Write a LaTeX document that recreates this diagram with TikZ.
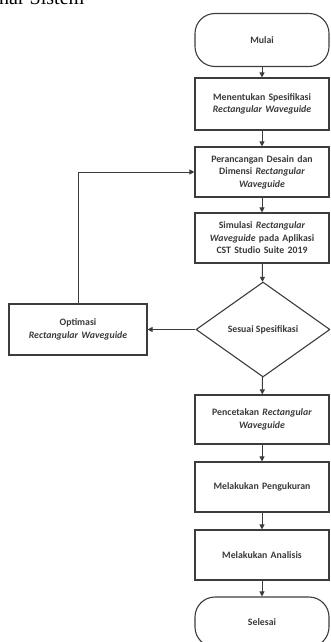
\documentclass[tikz,border=0pt]{standalone}
\usepackage{fontspec}
\setmainfont{Carlito}
\newfontfamily\headserif{Liberation Serif}
\usetikzlibrary{shapes.geometric,arrows.meta}
\definecolor{linec}{HTML}{3C3C3C}
\definecolor{textc}{HTML}{3A3A3A}
\begin{document}
\begin{tikzpicture}[x=1pt,y=-1pt,
  box/.style={draw=linec, line width=1.1pt, minimum width=134pt, minimum height=50pt,
    text width=130pt, align=center, inner sep=0pt, text=textc,
    font=\bfseries\fontsize{9.8}{12.5}\selectfont},
  term/.style={box, rounded corners=20pt},
  dec/.style={draw=linec, line width=1.1pt, diamond, minimum width=134pt, minimum height=95pt,
    inner sep=0pt, text=textc, align=center, font=\bfseries\fontsize{9.8}{12.5}\selectfont},
  conn/.style={draw=linec, line width=1pt, -{Triangle[length=5pt,width=5pt]}}
]
\useasboundingbox (0,0) rectangle (330,642);
\clip (0,0) rectangle (330,642);
\node[anchor=base west, font=\headserif\fontsize{20}{24}\selectfont, inner sep=0pt] (head) at (-1,5) {nar Sistem};
\node[term, minimum height=53pt] (mulai) at (262,40) {Mulai};
\node[box, minimum height=52pt] (spec) at (262,104) {Menentukan Spesifikasi\\\textit{Rectangular Waveguide}};
\node[box] (design) at (262,172) {Perancangan Desain dan\\Dimensi \textit{Rectangular}\\\textit{Waveguide}};
\node[box] (sim) at (262,238) {Simulasi \textit{Rectangular}\\\textit{Waveguide} pada Aplikasi\\CST Studio Suite 2019};
\node[dec] (check) at (263,329.5) {Sesuai Spesifikasi};
\node[box, minimum width=138pt, minimum height=51pt] (opt) at (78,329.5) {Optimasi\\\textit{Rectangular Waveguide}};
\node[box, minimum height=49pt] (print) at (262,419.5) {Pencetakan \textit{Rectangular}\\\textit{Waveguide}};
\node[box] (ukur) at (262,487) {Melakukan Pengukuran};
\node[box] (anal) at (262,555) {Melakukan Analisis};
\node[term] (selesai) at (262,622) {Selesai};
\coordinate (bend) at (78,172);
\draw[conn] (mulai) -- (spec);
\draw[conn] (spec) -- (design);
\draw[conn] (design) -- (sim);
\draw[conn] (sim) -- (check);
\draw[conn] (check) -- (opt);
\draw[conn] (opt.north) -- (bend) -- (design.west);
\draw[conn] (check) -- (print);
\draw[conn] (print) -- (ukur);
\draw[conn] (ukur) -- (anal);
\draw[conn] (anal) -- (selesai);
\end{tikzpicture}
\end{document}
